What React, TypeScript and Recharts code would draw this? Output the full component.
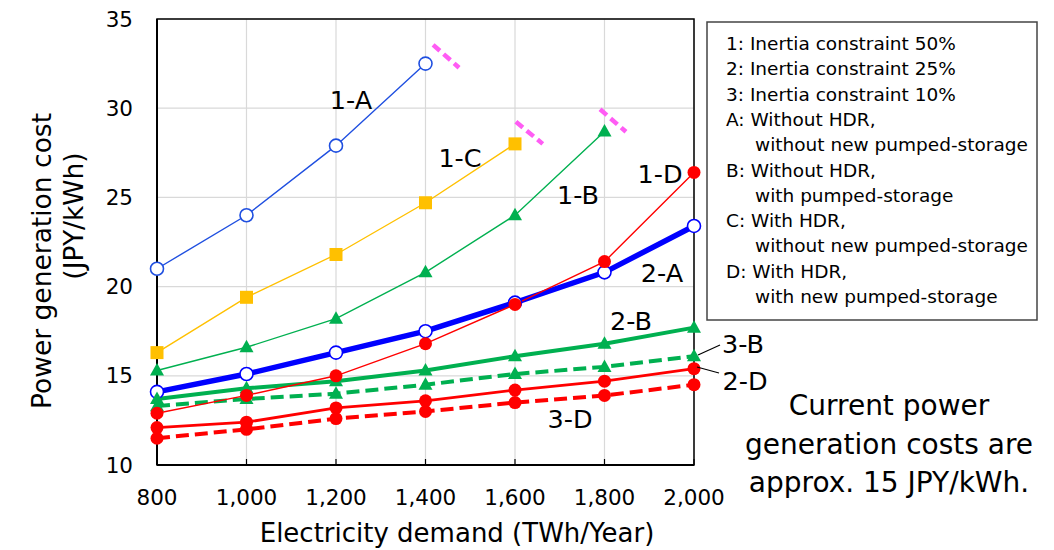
import { LineChart, Line, XAxis, YAxis, CartesianGrid, ReferenceLine, ReferenceArea } from 'recharts';

const demand = [800, 1000, 1200, 1400, 1600, 1800, 2000];
const cost1A = [21.0, 24.0, 27.9, 32.5];
const cost1C = [16.3, 19.4, 21.8, 24.7, 28.0];
const cost1B = [15.3, 16.6, 18.2, 20.8, 24.0, 28.7];
const cost1D = [12.9, 13.9, 15.0, 16.8, 19.0, 21.4, 26.4];
const cost2A = [14.1, 15.1, 16.3, 17.5, 19.1, 20.8, 23.4];
const cost2B = [13.7, 14.3, 14.7, 15.3, 16.1, 16.8, 17.7];
const cost3B = [13.3, 13.7, 14.0, 14.5, 15.1, 15.5, 16.1];
const cost2D = [12.1, 12.4, 13.2, 13.6, 14.2, 14.7, 15.4];
const cost3D = [11.5, 12.0, 12.6, 13.0, 13.5, 13.9, 14.5];

const yTicks = [10, 15, 20, 25, 30, 35];

// "cut off" marks after the series that end early (data coords)
const breakMarks = [
  [{ x: 1417, y: 33.55 }, { x: 1475, y: 32.27 }],
  [{ x: 1602, y: 29.24 }, { x: 1662, y: 28.0 }],
  [{ x: 1790, y: 29.94 }, { x: 1848, y: 28.68 }],
];

const legendLines = [
  '1: Inertia constraint 50%',
  '2: Inertia constraint 25%',
  '3: Inertia constraint 10%',
  'A: Without HDR,',
  '   without new pumped-storage',
  'B: Without HDR,',
  '   with pumped-storage',
  'C: With HDR,',
  '   without new pumped-storage',
  'D: With HDR,',
  '   with new pumped-storage',
];

const noteLines = ['Current power', 'generation costs are', 'approx. 15 JPY/kWh.'];

const data = demand.map((d, i) => ({
  demand: d,
  c1A: cost1A[i],
  c1C: cost1C[i],
  c1B: cost1B[i],
  c1D: cost1D[i],
  c2A: cost2A[i],
  c2B: cost2B[i],
  c3B: cost3B[i],
  c2D: cost2D[i],
  c3D: cost3D[i],
}));

const FONT = '"DejaVu Sans", sans-serif';
const BLUE = '#0000ff';
const BLUE_THIN = '#1f4fe0';
const GREEN = '#00b050';
const RED = '#ff0000';
const YELLOW = '#ffc000';
const TICK_MARGIN = 25;

const openCircle = (color: string) => (p: any) => {
  if (p.cy == null) return <g key={p.index} />;
  return <circle key={p.index} cx={p.cx} cy={p.cy} r={6.5} fill="#fff" stroke={color} strokeWidth={1.6} />;
};
const filledCircle = (color: string) => (p: any) => {
  if (p.cy == null) return <g key={p.index} />;
  return <circle key={p.index} cx={p.cx} cy={p.cy} r={6.5} fill={color} stroke="none" />;
};
const triangle = (color: string) => (p: any) => {
  if (p.cy == null) return <g key={p.index} />;
  const { cx, cy } = p;
  return <polygon key={p.index} points={`${cx},${cy - 7.5} ${cx - 7},${cy + 5} ${cx + 7},${cy + 5}`} fill={color} />;
};
const square = (color: string) => (p: any) => {
  if (p.cy == null) return <g key={p.index} />;
  return <rect key={p.index} x={p.cx - 6.5} y={p.cy - 6.5} width={13} height={13} fill={color} />;
};

const XTick = ({ x, y, payload }: any) => (
  <g>
    <line x1={x} x2={x} y1={y - TICK_MARGIN - 6} y2={y - TICK_MARGIN} stroke="#000" strokeWidth={1.2} />
    <text x={x} y={y} dy="0.71em" textAnchor="middle" fontSize={21.5} fontFamily={FONT} fill="#000">
      {Number(payload.value).toLocaleString('en-US')}
    </text>
  </g>
);

const seriesLabels = [
  { text: '1-A', x: 351, y: 109 },
  { text: '1-C', x: 460, y: 167 },
  { text: '1-B', x: 578, y: 204 },
  { text: '1-D', x: 660, y: 183 },
  { text: '2-A', x: 662, y: 282 },
  { text: '2-B', x: 631, y: 330 },
  { text: '3-B', x: 743, y: 353 },
  { text: '2-D', x: 745, y: 390 },
  { text: '3-D', x: 570, y: 428 },
];

export default function App() {
  return (
    <div style={{ position: 'absolute', left: 0, top: 0, width: 1054, height: 550, background: '#fff' }}>
      <LineChart width={1054} height={550} data={data} margin={{ top: 19, right: 360, left: 97, bottom: 45 }}>
        <CartesianGrid stroke="#d9d9d9" strokeWidth={1.2} verticalValues={demand} horizontalValues={yTicks} />
        <XAxis
          dataKey="demand"
          type="number"
          domain={[800, 2000]}
          ticks={demand}
          height={40}
          tickSize={0}
          tickMargin={TICK_MARGIN}
          tickLine={false}
          axisLine={{ stroke: '#000', strokeWidth: 2 }}
          tick={<XTick />}
        />
        <YAxis
          type="number"
          domain={[10, 35]}
          ticks={yTicks}
          width={60}
          tickSize={0}
          tickMargin={24}
          tickLine={false}
          axisLine={{ stroke: '#000', strokeWidth: 2 }}
          tick={{ fontSize: 21.5, fill: '#000', fontFamily: FONT }}
        />
        <ReferenceArea x1={800} x2={2000} y1={10} y2={35} fill="none" stroke="#000" strokeWidth={1.5} />
        {breakMarks.map((seg, i) => (
          <ReferenceLine key={i} segment={seg} stroke="#ff5cf4" strokeWidth={4.5} strokeDasharray="9 5" />
        ))}
        <Line dataKey="c2A" stroke={BLUE} strokeWidth={5.5} dot={openCircle(BLUE)} isAnimationActive={false} />
        <Line dataKey="c1A" stroke={BLUE_THIN} strokeWidth={1.4} dot={openCircle(BLUE_THIN)} isAnimationActive={false} />
        <Line dataKey="c1C" stroke={YELLOW} strokeWidth={1.4} dot={square(YELLOW)} isAnimationActive={false} />
        <Line dataKey="c1B" stroke={GREEN} strokeWidth={1.4} dot={triangle(GREEN)} isAnimationActive={false} />
        <Line dataKey="c2B" stroke={GREEN} strokeWidth={4} dot={triangle(GREEN)} isAnimationActive={false} />
        <Line dataKey="c3B" stroke={GREEN} strokeWidth={4} strokeDasharray="13 6" dot={triangle(GREEN)} isAnimationActive={false} />
        <Line dataKey="c2D" stroke={RED} strokeWidth={2.8} dot={filledCircle(RED)} isAnimationActive={false} />
        <Line dataKey="c3D" stroke={RED} strokeWidth={4} strokeDasharray="13 6" dot={filledCircle(RED)} isAnimationActive={false} />
        <Line dataKey="c1D" stroke={RED} strokeWidth={1.4} dot={filledCircle(RED)} isAnimationActive={false} />
      </LineChart>

      <svg
        width={1054}
        height={550}
        style={{ position: 'absolute', left: 0, top: 0, pointerEvents: 'none' }}
        fontFamily={FONT}
      >
        <text transform="translate(51,261) rotate(-90)" textAnchor="middle" fontSize={26.5} fill="#000">
          Power generation cost
        </text>
        <text transform="translate(83,216) rotate(-90)" textAnchor="middle" fontSize={26.5} fill="#000">
          (JPY/kWh)
        </text>
        <text x={457} y={542} textAnchor="middle" fontSize={26} fill="#000">
          Electricity demand (TWh/Year)
        </text>

        {seriesLabels.map((l) => (
          <text key={l.text} x={l.x} y={l.y} textAnchor="middle" fontSize={25.5} fill="#000">
            {l.text}
          </text>
        ))}
        <line x1={698} y1={355} x2={720} y2={345} stroke="#000" strokeWidth={1.2} />
        <line x1={697} y1={367} x2={719} y2={373} stroke="#000" strokeWidth={1.2} />

        <rect x={707} y={22} width={330} height={298} fill="#fff" stroke="#444" strokeWidth={1.5} />
        {legendLines.map((t, i) => (
          <text
            key={i}
            x={t.startsWith(' ') ? 755 : 726}
            y={50 + i * 25.3}
            fontSize={18.5}
            fill="#000"
          >
            {t.trim()}
          </text>
        ))}

        {noteLines.map((t, i) => (
          <text key={i} x={889} y={415 + i * 38.5} textAnchor="middle" fontSize={28} fill="#000">
            {t}
          </text>
        ))}
      </svg>
    </div>
  );
}
